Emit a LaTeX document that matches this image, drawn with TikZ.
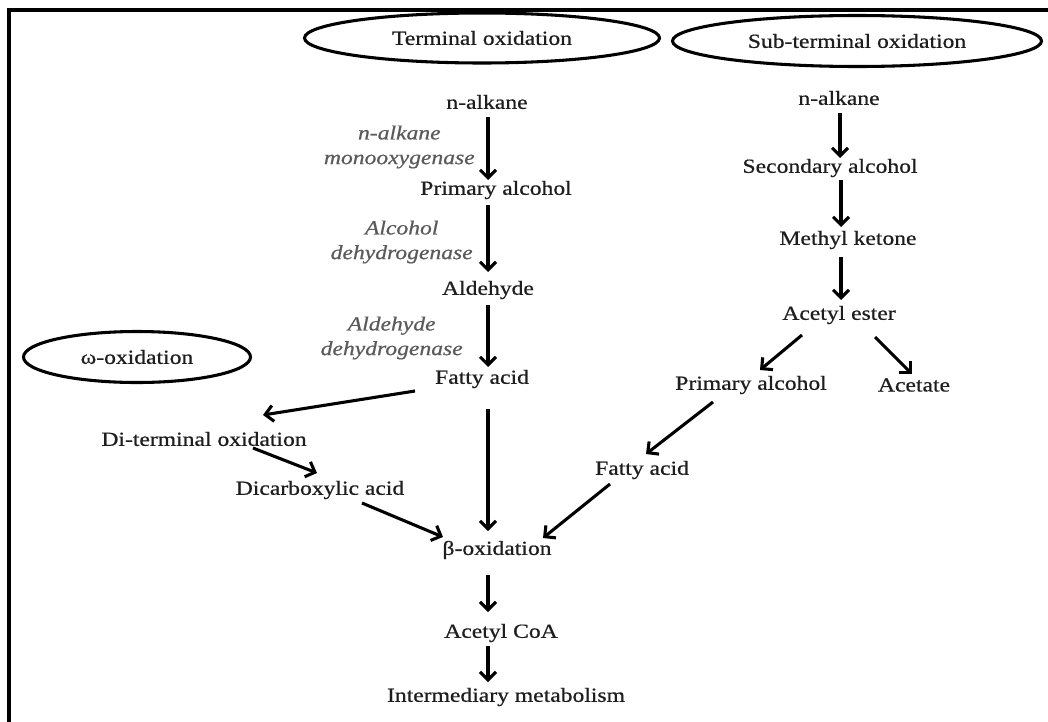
\documentclass[tikz,border=0pt]{standalone}
\usepackage{fontspec}
\setmainfont{Liberation Serif}[FakeBold=0.6]
\usetikzlibrary{arrows.meta,shapes.geometric}
\definecolor{ink}{HTML}{1E1E1E}
\definecolor{enz}{HTML}{5A5A5A}
\tikzset{
  txt/.style={font=\fontsize{15}{18}\selectfont, text=ink, xscale=1.18, inner sep=1pt},
  enzlbl/.style={font=\fontsize{15}{18.5}\selectfont\itshape, text=enz, xscale=1.18, align=center, anchor=east, inner sep=0pt},
  oval/.style={draw=black, line width=2.3pt, ellipse, font=\fontsize{15}{18}\selectfont, text=ink},
  arr/.style={draw=black, line width=2.3pt, -{Straight Barb[length=6pt,width=12pt,line width=2.3pt]}},
  frame/.style={draw=black, line width=2.4pt}
}
\begin{document}
\begin{tikzpicture}[x=0.75pt,y=-0.75pt]
\useasboundingbox (0,0) rectangle (1048,721);
\draw[frame] (9,725) -- (9,10) -- (1052,10);

% ellipses
\node[oval, minimum width=355*0.75pt, minimum height=50*0.75pt] (term) at (482,38) {\scalebox{1.18}[1]{Terminal oxidation}};
\node[oval, minimum width=369*0.75pt, minimum height=51*0.75pt] (sub) at (857,41) {\scalebox{1.18}[1]{Sub-terminal oxidation}};
\node[oval, minimum width=227*0.75pt, minimum height=51*0.75pt] (omega) at (137,357) {\scalebox{1.18}[1]{ω-oxidation}};

% left column
\node[txt] (na1) at (487,102) {n-alkane};
\node[txt] (pa1) at (496,190) {Primary alcohol};
\node[txt] (ald) at (488,290) {Aldehyde};
\node[txt] (fa1) at (482,379) {Fatty acid};
\node[txt] (beta) at (497,550) {β-oxidation};
\node[txt] (acoa) at (501,633) {Acetyl CoA};
\node[txt] (im) at (506,697) {Intermediary metabolism};
\node[txt] (dt) at (204,439) {Di-terminal oxidation};
\node[txt] (dca) at (320,490) {Dicarboxylic acid};

\node[enzlbl] (enz1) at (475,147) {n-alkane\\monooxygenase};
\node[enzlbl] (enz2) at (473,242) {Alcohol\\dehydrogenase};
\node[enzlbl] (enz3) at (463,338) {Aldehyde\\dehydrogenase};

% right column
\node[txt] (na2) at (839,98) {n-alkane};
\node[txt] (sa) at (830,168) {Secondary alcohol};
\node[txt] (mk) at (848,240) {Methyl ketone};
\node[txt] (ae) at (839,315) {Acetyl ester};
\node[txt] (pa2) at (751,385) {Primary alcohol};
\node[txt] (ac) at (914,385) {Acetate};
\node[txt] (fa2) at (642,470) {Fatty acid};

% arrows
\draw[arr] ([shift={(1,15)}]na1.center) -- ([shift={(-8,-10)}]pa1.center);
\draw[arr] ([shift={(-8,15)}]pa1.center) -- ([shift={(0,-18)}]ald.center);
\draw[arr] ([shift={(0,15)}]ald.center) -- ([shift={(6,-12)}]fa1.center);
\draw[arr] ([shift={(6,30)}]fa1.center) -- ([shift={(-9,-19)}]beta.center);
\draw[arr] ([shift={(-9,25)}]beta.center) -- ([shift={(-13,-21)}]acoa.center);
\draw[arr] ([shift={(-13,13)}]acoa.center) -- ([shift={(-18,-15)}]im.center);
\draw[arr] ([shift={(-67,12)}]fa1.center) -- ([shift={(59,-24)}]dt.center);
\draw[arr] ([shift={(49,9)}]dt.center) -- ([shift={(-3,-17)}]dca.center);
\draw[arr] ([shift={(42,13)}]dca.center) -- ([shift={(-54,-13)}]beta.center);
\draw[arr] ([shift={(-32,14)}]fa2.center) -- ([shift={(46,-12)}]beta.center);
\draw[arr] ([shift={(1,15)}]na2.center) -- ([shift={(10,-10)}]sa.center);
\draw[arr] ([shift={(11,12)}]sa.center) -- ([shift={(-7,-13)}]mk.center);
\draw[arr] ([shift={(-7,17)}]mk.center) -- ([shift={(2,-15)}]ae.center);
\draw[arr] ([shift={(-37,20)}]ae.center) -- ([shift={(9,-15)}]pa2.center);
\draw[arr] ([shift={(36,22)}]ae.center) -- ([shift={(-2,-11)}]ac.center);
\draw[arr] ([shift={(-38,17)}]pa2.center) -- ([shift={(4,-16)}]fa2.center);
\end{tikzpicture}
\end{document}
